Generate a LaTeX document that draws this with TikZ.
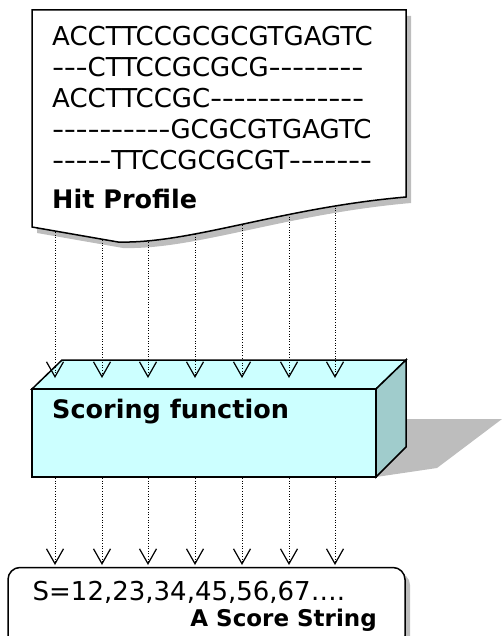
\documentclass[tikz,border=0pt]{standalone}
\usepackage{fontspec}
\usepackage{graphicx}
\setmainfont{DejaVu Sans}[Ligatures=TeXOff]
\usetikzlibrary{arrows.meta}
\definecolor{boxfront}{HTML}{CCFFFF}
\definecolor{boxside}{HTML}{A0CCCC}
\definecolor{shade}{HTML}{BDBDBD}
\newcommand\hy{\makebox[0.455em][c]{\scalebox{1.3}[1]{-}}}
\begin{document}
\begin{tikzpicture}[x=1pt,y=-1pt,
  seq/.style={anchor=base west,inner sep=0pt,font=\fontsize{26}{30}\selectfont},
  lbl/.style={anchor=base west,inner sep=0pt,font=\fontsize{25.5}{28}\selectfont\bfseries},
  flow/.style={line width=1pt,dash pattern=on 1pt off 1.6pt,-{Straight Barb[length=15pt,width=17pt,line width=1.2pt]}},
  outline/.style={draw=black,line width=1.5pt},
  shadowfill/.style={fill=shade,draw=none}]
\useasboundingbox (0,0) rectangle (502,636);

% ---------- coordinates for the connectors ----------
\foreach \i/\x/\y in {1/55/232,2/102/240,3/148/242,4/195/234,5/242/225,6/289/214,7/335/205}{
  \coordinate (a\i) at (\x,\y);
  \coordinate (b\i) at (\x,378);
  \coordinate (c\i) at (\x,478);
  \coordinate (d\i) at (\x,565);
}

% ---------- Hit profile document ----------
\path[shadowfill,shift={(5,6)}] (32,10) -- (406,10) -- (406,197)
   .. controls (280,208) and (190,244) .. (118,242) -- (32,227) -- cycle;
\path[outline,fill=white] (32,10) -- (406,10) -- (406,197)
   .. controls (280,208) and (190,244) .. (118,242) -- (32,227) -- cycle;
\node[seq] (l1) at (52,46)  {ACCTTCCGCGCGTGAGTC};
\node[seq] (l2) at (52,77)  {\hy\hy\hy CTTCCGCGCG\hy\hy\hy\hy\hy\hy\hy\hy};
\node[seq] (l3) at (52,108) {ACCTTCCGC\hy\hy\hy\hy\hy\hy\hy\hy\hy\hy\hy\hy\hy};
\node[seq] (l4) at (52,139) {\hy\hy\hy\hy\hy\hy\hy\hy\hy\hy GCGCGTGAGTC};
\node[seq] (l5) at (52,170) {\hy\hy\hy\hy\hy TTCCGCGCGT\hy\hy\hy\hy\hy\hy\hy};
\node[lbl] (hit) at (52,208) {Hit Profile};

% ---------- Scoring function box ----------
\path[shadowfill] (405,419) -- (502,419) -- (437,468) -- (376,477) -- cycle;
\path[outline,fill=boxfront] (32,389) -- (62,360) -- (406,360) -- (376,389) -- cycle;
\path[outline,fill=boxside] (376,389) -- (406,360) -- (406,447) -- (376,477) -- cycle;
\path[outline,fill=boxfront] (32,389) rectangle (376,477);
\node[lbl] (score) at (52,418) {Scoring function};

% ---------- Score string box ----------
\path[shadowfill,rounded corners=12pt] (13,573) rectangle (410,653);
\path[outline,fill=white,rounded corners=12pt] (8,567.5) rectangle (405,648);
\node[seq] (s) at (32.5,600) {S=12,23,34,45,56,67….};
\node[lbl,anchor=base east,font=\fontsize{23}{26}\selectfont\bfseries] (ss) at (377,626.5) {A Score String};

% ---------- connectors ----------
\foreach \i in {1,...,7}{
  \draw[flow] (a\i) -- (b\i);
  \draw[flow] (c\i) -- (d\i);
}
\end{tikzpicture}
\end{document}
